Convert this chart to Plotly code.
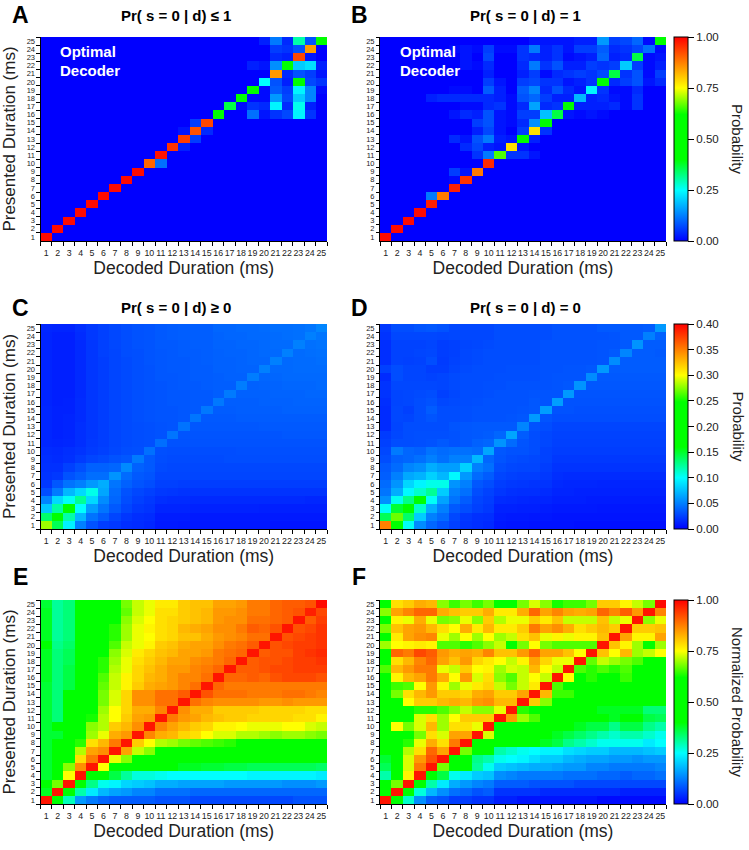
import plotly.graph_objects as go

durations = [str(d) for d in range(1, 26)]
presented_top_down = [str(d) for d in range(25, 0, -1)]

# rows run from presented 25 (top) to presented 1 (bottom); values in percent
panel_a = [
[0,0,0,0,0,0,0,0,0,0,0,0,0,0,0,0,0,0,0,3,12,4,30,8,50],
[0,0,0,0,0,0,0,0,0,0,0,0,0,0,0,0,0,0,0,0,6,5,8,85,0],
[0,0,0,0,0,0,0,0,0,0,0,0,0,0,0,0,0,0,0,0,4,3,93,2,0],
[0,0,0,0,0,0,0,0,0,0,0,0,0,0,0,0,0,0,3,2,14,50,20,22,3],
[0,0,0,0,0,0,0,0,0,0,0,0,0,0,0,0,0,0,0,0,85,4,8,6,2],
[0,0,0,0,0,0,0,0,0,0,0,0,0,0,0,0,0,0,0,25,8,3,48,7,5],
[0,0,0,0,0,0,0,0,0,0,0,0,0,0,0,0,0,0,48,1,9,6,24,13,1],
[0,0,0,0,0,0,0,0,0,0,0,0,0,0,0,0,0,42,1,1,15,7,20,13,0],
[0,0,0,0,0,0,0,0,0,0,0,0,0,0,0,0,36,1,5,4,24,4,26,3,0],
[0,0,0,0,0,0,0,0,0,0,0,0,0,0,0,48,0,0,11,2,5,7,24,5,0],
[0,0,0,0,0,0,0,0,0,0,0,0,0,6,93,0,0,0,0,0,0,0,0,0,0],
[0,0,0,0,0,0,0,0,0,0,0,0,2,92,4,0,0,0,0,0,0,0,0,0,0],
[0,0,0,0,0,0,0,0,0,0,0,0,94,6,0,0,0,0,0,0,0,0,0,0,0],
[0,0,0,0,0,0,0,0,0,0,0,95,3,0,0,0,0,0,0,0,0,0,0,0,0],
[0,0,0,0,0,0,0,0,0,0,98,0,0,0,0,0,0,0,0,0,0,0,0,0,0],
[0,0,0,0,0,0,0,0,0,90,11,0,0,0,0,0,0,0,0,0,0,0,0,0,0],
[0,0,0,0,0,0,0,0,99,0,0,0,0,0,0,0,0,0,0,0,0,0,0,0,0],
[0,0,0,0,0,0,0,99,0,0,0,0,0,0,0,0,0,0,0,0,0,0,0,0,0],
[0,0,0,0,0,0,99,0,0,0,0,0,0,0,0,0,0,0,0,0,0,0,0,0,0],
[0,0,0,0,0,99,0,0,0,0,0,0,0,0,0,0,0,0,0,0,0,0,0,0,0],
[0,0,0,0,99,0,0,0,0,0,0,0,0,0,0,0,0,0,0,0,0,0,0,0,0],
[0,0,0,99,0,0,0,0,0,0,0,0,0,0,0,0,0,0,0,0,0,0,0,0,0],
[0,0,99,0,0,0,0,0,0,0,0,0,0,0,0,0,0,0,0,0,0,0,0,0,0],
[0,99,0,0,0,0,0,0,0,0,0,0,0,0,0,0,0,0,0,0,0,0,0,0,0],
[99,0,0,0,0,0,0,0,0,0,0,0,0,0,0,0,0,0,0,0,0,0,0,0,0],
]

panel_b = [
[0,0,0,0,0,0,0,0,0,0,0,0,0,2,2,2,2,3,3,15,6,7,10,1,48],
[0,0,0,0,0,0,1,2,1,6,1,1,5,12,3,5,2,6,6,9,4,5,7,11,1],
[0,0,0,0,0,0,0,2,0,7,0,0,5,4,3,5,1,2,3,10,3,4,36,1,2],
[0,0,0,0,0,0,0,2,1,4,0,0,4,12,5,8,3,3,6,5,6,20,6,1,3],
[0,0,0,0,0,0,0,0,0,3,0,0,3,6,1,4,5,6,5,7,36,5,8,1,6],
[0,0,0,0,0,0,0,0,0,6,2,0,6,7,5,5,2,3,5,44,4,6,8,2,4],
[0,0,0,0,0,0,1,1,0,9,3,0,9,13,4,8,4,2,24,5,1,1,4,0,0],
[0,0,0,0,3,4,4,4,4,4,3,1,8,10,6,3,3,18,3,4,2,1,5,0,0],
[0,0,0,0,0,0,0,1,1,4,5,1,4,16,4,5,46,3,3,3,4,1,5,0,0],
[0,0,0,0,0,0,2,4,3,8,2,1,6,6,19,36,2,1,2,1,0,0,0,0,0],
[0,0,0,0,0,0,0,0,6,8,2,1,4,14,46,0,0,0,0,0,0,0,0,0,0],
[0,0,0,0,0,0,0,0,3,7,2,0,6,78,5,0,0,0,0,0,0,0,0,0,0],
[0,0,0,0,0,0,4,2,8,12,3,2,50,3,0,0,0,0,0,0,0,0,0,0,0],
[0,0,0,0,0,0,0,4,7,3,2,78,2,0,0,0,0,0,0,0,0,0,0,0,0],
[0,0,0,0,0,0,0,0,5,12,66,5,5,2,0,0,0,0,0,0,0,0,0,0,0],
[0,0,0,0,0,0,0,0,0,96,0,0,0,0,0,0,0,0,0,0,0,0,0,0,0],
[0,0,0,0,0,0,6,2,88,0,0,0,0,0,0,0,0,0,0,0,0,0,0,0,0],
[0,0,0,0,0,0,1,95,0,0,0,0,0,0,0,0,0,0,0,0,0,0,0,0,0],
[0,0,0,0,0,0,97,0,0,0,0,0,0,0,0,0,0,0,0,0,0,0,0,0,0],
[0,0,0,0,12,88,0,0,0,0,0,0,0,0,0,0,0,0,0,0,0,0,0,0,0],
[0,0,0,0,97,0,0,0,0,0,0,0,0,0,0,0,0,0,0,0,0,0,0,0,0],
[0,0,0,99,0,0,0,0,0,0,0,0,0,0,0,0,0,0,0,0,0,0,0,0,0],
[0,0,99,0,0,0,0,0,0,0,0,0,0,0,0,0,0,0,0,0,0,0,0,0,0],
[0,99,0,0,0,0,0,0,0,0,0,0,0,0,0,0,0,0,0,0,0,0,0,0,0],
[99,0,0,0,0,0,0,0,0,0,0,0,0,0,0,0,0,0,0,0,0,0,0,0,0],
]

# values in thousandths of probability
panel_c = [
[15,14,14,18,22,25,28,30,32,33,35,36,37,37,37,40,40,41,41,42,43,43,44,46,52],
[14,12,12,17,22,25,28,30,32,33,35,36,37,37,37,39,40,40,41,41,42,43,44,50,46],
[14,12,12,16,21,25,28,30,32,33,35,35,36,37,37,39,39,40,40,41,42,42,50,44,45],
[14,12,12,16,21,25,27,30,31,33,34,35,36,36,37,38,39,39,40,41,41,50,42,43,44],
[14,12,12,16,21,24,27,29,31,33,34,35,35,36,37,38,38,39,40,40,50,41,42,42,43],
[14,12,12,16,21,24,27,29,31,32,34,35,35,36,36,38,38,39,39,50,41,41,42,42,42],
[14,12,12,16,21,24,27,29,31,32,34,34,35,36,36,37,38,38,49,40,40,41,41,41,41],
[14,12,12,16,21,24,27,29,31,32,33,34,35,35,36,37,37,49,38,39,39,40,40,40,41],
[14,12,12,16,21,24,27,29,31,32,33,34,34,35,35,37,48,38,38,38,39,39,39,40,40],
[14,12,13,17,21,24,27,29,31,32,33,34,34,35,35,47,37,37,37,38,38,38,39,39,39],
[15,13,13,17,21,24,27,29,31,32,33,33,34,35,47,36,36,37,37,37,37,38,38,38,38],
[15,13,14,17,21,24,27,29,31,32,33,33,34,46,35,35,35,36,36,36,36,36,36,36,36],
[15,13,14,18,21,24,27,29,30,31,32,33,45,34,34,34,34,34,34,35,35,35,35,35,35],
[15,13,14,18,21,24,27,29,30,31,32,46,33,33,33,33,33,33,33,33,33,34,34,34,34],
[15,14,15,18,22,24,27,29,30,31,43,32,32,32,32,32,32,32,32,32,32,32,32,32,32],
[17,16,18,20,23,25,28,30,31,44,31,30,30,30,30,30,30,31,31,31,31,31,31,31,31],
[18,17,19,23,27,29,32,34,48,35,30,29,29,29,29,29,30,30,30,30,30,30,30,30,30],
[19,19,25,31,38,38,40,54,38,35,29,28,28,28,28,28,28,28,28,28,28,28,28,28,28],
[20,22,32,37,43,43,58,42,35,33,27,27,27,27,27,27,27,27,27,27,27,27,27,27,27],
[22,34,45,50,60,68,46,38,33,30,25,25,24,24,24,24,24,24,24,24,24,24,24,24,24],
[30,48,72,85,105,65,42,32,28,25,22,21,20,20,20,20,20,20,20,20,20,20,20,20,20],
[52,85,102,125,85,55,40,30,25,22,18,17,17,16,16,16,16,16,16,16,16,16,16,15,15],
[78,122,160,100,62,46,35,27,22,20,14,14,14,13,13,13,13,13,13,12,12,12,12,12,12],
[135,175,120,72,45,36,27,21,18,17,11,11,11,10,10,10,10,10,10,10,10,10,10,10,10],
[280,140,95,50,32,24,22,18,17,15,10,10,9,9,9,9,9,9,9,9,8,8,8,8,8],
]

panel_d = [
[22,30,30,33,34,32,28,28,28,28,30,30,30,30,30,32,32,32,32,35,35,35,35,36,60],
[20,28,28,28,28,27,28,28,28,28,30,30,30,30,30,32,32,32,32,32,33,35,35,50,38],
[18,26,26,26,27,24,25,27,28,29,30,30,30,30,32,32,32,32,32,33,33,35,58,36,36],
[18,26,26,27,28,24,25,28,29,30,30,30,30,30,32,32,32,32,32,33,35,52,36,36,35],
[18,26,25,26,30,23,26,28,29,30,30,30,30,30,32,32,32,32,32,33,55,36,36,36,36],
[25,30,27,27,24,24,27,29,30,30,30,31,31,31,32,32,33,33,34,60,36,36,36,36,36],
[17,30,27,27,26,27,29,30,30,30,31,31,31,31,32,33,33,33,55,35,35,35,35,35,35],
[20,28,28,28,28,27,29,30,30,31,31,32,32,32,32,33,34,58,34,34,34,34,34,34,34],
[20,27,28,29,30,25,28,30,30,31,32,32,32,33,33,33,60,33,33,33,33,33,33,33,33],
[18,27,28,30,32,28,29,30,31,32,32,32,32,34,33,62,32,32,32,32,32,32,32,32,32],
[17,28,25,30,36,30,30,31,32,32,32,32,33,34,62,32,32,31,31,31,31,31,31,31,31],
[17,28,27,30,33,30,30,31,32,32,32,33,34,60,33,30,30,30,30,30,30,30,30,30,30],
[17,27,30,30,30,30,33,34,35,35,35,35,52,32,30,27,27,27,27,27,27,27,27,27,27],
[23,28,30,31,31,31,32,34,35,36,40,65,36,30,28,26,26,26,26,26,26,26,26,26,26],
[25,30,30,31,32,35,32,34,38,40,58,42,33,30,28,25,25,25,25,25,25,25,25,25,25],
[28,48,40,38,45,42,44,44,42,65,34,32,32,30,26,24,24,24,24,24,24,24,24,24,24],
[30,38,40,44,50,44,50,50,72,40,33,30,29,28,26,22,22,22,22,22,22,22,22,22,22],
[35,42,52,56,68,62,62,82,50,44,30,28,27,27,24,20,20,20,20,20,20,20,20,20,20],
[37,50,66,70,82,72,98,60,42,36,27,25,24,24,22,18,17,17,17,17,17,17,17,17,17],
[42,58,84,96,105,105,58,50,34,30,24,22,21,20,20,16,15,15,15,14,14,14,14,14,14],
[46,68,98,112,125,80,50,44,30,26,21,19,18,18,17,14,14,13,13,13,13,13,13,13,13],
[56,103,128,165,102,64,45,36,27,24,17,16,15,14,14,12,12,12,11,11,11,11,11,11,11],
[102,148,180,112,68,50,35,30,25,22,13,13,12,12,11,10,10,10,10,9,9,9,9,9,9],
[140,270,135,80,50,42,28,22,19,18,11,10,10,9,9,8,8,8,8,8,8,8,8,8,8],
[350,165,102,55,40,32,25,20,18,16,9,8,8,7,7,7,7,6,6,6,6,6,6,6,6],
]

# values in percent
panel_e = [
[37,31,33,45,50,50,55,68,72,74,77,77,80,81,81,84,84,85,88,88,90,91,91,92,99],
[38,31,33,45,50,50,55,67,72,74,78,78,80,81,82,85,85,86,88,88,90,91,92,97,93],
[38,31,33,45,50,50,62,69,73,75,78,79,80,81,82,85,86,86,89,89,90,91,98,91,94],
[38,31,33,45,50,55,64,70,74,76,78,79,82,83,84,86,86,88,91,90,92,98,92,93,95],
[38,31,33,45,50,60,64,70,74,75,78,79,81,81,83,85,86,87,89,89,98,92,93,94,95],
[42,32,34,45,50,52,66,72,74,76,80,81,83,84,84,86,88,89,91,98,92,93,94,94,95],
[38,33,35,45,50,58,69,73,77,79,81,82,84,84,85,88,89,90,98,91,92,92,94,95,96],
[38,33,35,45,50,64,70,74,78,80,82,84,84,86,87,88,90,98,91,92,92,93,94,94,95],
[38,33,36,45,50,64,71,74,79,81,83,85,85,87,88,90,98,91,91,92,93,93,94,94,94],
[38,33,36,45,50,66,72,76,79,82,83,85,87,87,89,98,90,90,91,90,92,93,93,93,92],
[37,33,36,45,50,67,72,76,80,83,84,85,87,89,98,90,88,88,88,88,88,88,88,88,88],
[37,33,40,45,60,68,73,79,86,86,89,89,91,98,92,89,89,89,88,88,88,89,89,88,87],
[37,33,41,50,50,68,73,79,86,86,89,89,98,89,87,86,86,86,86,85,85,86,85,85,85],
[37,33,42,50,50,70,75,79,83,83,87,98,86,83,83,80,80,80,80,79,79,79,79,78,78],
[37,33,42,50,63,71,75,80,84,85,98,88,85,84,82,81,80,80,79,79,79,79,78,78,76],
[37,40,42,50,69,71,80,82,86,98,87,84,82,80,79,76,76,75,74,74,74,75,75,73,72],
[37,37,42,50,70,74,83,85,98,87,83,82,79,78,75,73,73,71,71,70,69,70,70,69,68],
[37,42,42,64,78,82,88,98,80,75,71,70,68,67,66,65,64,62,60,58,58,58,58,58,58],
[37,42,44,71,84,86,98,84,72,69,54,50,50,50,50,50,50,50,50,50,50,50,50,50,50],
[37,42,60,78,88,98,74,69,52,50,50,50,50,50,50,50,50,50,50,50,50,50,50,50,50],
[37,42,69,86,98,75,50,50,48,47,40,40,38,38,37,37,36,36,35,35,35,35,35,35,34],
[37,42,75,98,45,45,36,31,27,27,26,25,25,25,25,25,25,25,24,24,24,24,24,24,23],
[44,68,98,44,32,26,24,21,20,19,17,17,16,16,16,16,15,15,15,15,15,14,14,14,15],
[38,98,44,30,23,18,16,15,13,13,11,11,11,10,10,10,10,10,10,10,10,10,10,10,10],
[98,42,29,15,12,10,9,9,9,9,8,8,8,7,7,7,7,7,7,7,7,7,8,8,8],
]

panel_f = [
[45,78,80,83,82,69,65,68,65,68,50,50,68,73,69,63,65,65,68,80,80,76,72,68,99],
[69,84,87,90,90,83,81,80,80,83,77,77,83,90,84,87,84,83,84,90,87,91,85,98,87],
[45,76,74,83,74,68,69,74,69,80,71,74,74,80,77,81,72,72,72,81,72,74,98,69,74],
[68,81,84,85,82,78,75,83,77,82,77,77,80,88,84,86,83,78,80,82,80,98,80,80,81],
[45,77,84,86,87,74,70,75,70,75,70,72,78,81,74,76,74,76,76,81,98,84,76,76,84],
[70,75,76,77,76,66,66,64,66,69,72,60,68,75,68,66,66,66,66,98,81,76,70,62,70],
[50,90,88,93,91,85,83,84,83,87,81,81,85,90,84,84,81,75,98,81,75,82,70,72,75],
[50,78,82,87,90,84,81,85,79,77,75,72,76,84,79,74,74,98,67,72,70,68,66,50,57],
[66,82,85,88,88,74,72,80,75,76,70,73,72,82,75,72,98,66,64,66,64,66,50,50,50],
[45,76,82,84,88,83,75,85,73,78,69,66,72,75,72,98,75,55,64,50,50,65,62,50,50],
[45,65,66,75,85,76,70,74,77,79,72,68,72,77,98,66,48,48,48,48,48,48,48,48,48],
[45,68,78,82,85,80,80,79,83,84,80,80,84,98,82,65,65,48,48,48,48,48,48,48,48],
[45,52,75,80,80,82,83,82,85,86,82,82,98,80,69,48,48,48,48,48,48,48,48,48,48],
[47,47,47,64,64,66,69,72,69,69,74,98,64,46,46,46,45,45,40,38,38,38,38,33,33],
[47,47,62,73,78,70,75,80,80,80,98,85,70,66,46,46,45,42,42,42,38,42,40,36,35],
[47,75,68,73,82,70,78,78,74,98,48,48,46,46,46,42,42,38,36,36,32,36,36,32,30],
[47,47,47,68,78,73,84,84,98,73,46,46,46,44,44,38,36,34,32,30,28,30,30,28,26],
[47,47,64,74,83,78,88,98,48,48,48,44,42,40,38,36,32,30,28,26,26,26,26,23,25],
[43,47,71,78,90,84,98,68,44,42,30,28,26,25,24,24,22,21,20,20,18,18,18,19,20],
[37,47,73,85,92,98,46,46,32,30,26,25,24,22,20,20,18,17,16,16,15,15,14,15,15],
[35,47,73,88,98,68,45,42,31,26,20,19,18,17,17,16,15,15,13,13,12,12,12,12,13],
[30,46,76,98,46,36,26,23,20,19,14,13,12,12,12,12,11,11,11,10,10,9,10,10,11],
[44,68,98,45,30,23,17,15,13,12,9,9,9,8,8,8,8,7,7,7,7,7,7,7,7],
[45,98,45,27,18,14,11,10,8,9,5,5,5,5,4,4,4,4,4,4,4,3,3,3,3],
[98,46,28,14,9,8,6,6,5,5,3,3,2,2,2,2,2,2,2,1,1,1,1,1,1],
]

panel_titles = ["Pr( s = 0 | d) ≤ 1", "Pr( s = 0 | d) = 1", "Pr( s = 0 | d) ≥ 0",
                "Pr( s = 0 | d) = 0", "", ""]
panel_letters = ["A", "B", "C", "D", "E", "F"]
colorbar_titles = ["", "Probability", "", "Probability", "", "Normalized Probability"]

W, H = 749, 850
FONT = "Liberation Sans, Arial, sans-serif"
JET = [[0, "#0000ff"], [0.25, "#00ffff"], [0.40, "#00ff00"], [0.62, "#00ff00"],
       [0.75, "#ffff00"], [1, "#ff0000"]]

col_px = [(40.5, 327.0), (380.0, 666.0)]
row_px = [(37.0, 241.0), (324.0, 529.0), (600.0, 804.0)]
letter_y_px = [15, 308, 577]
title_y_px = [15, 307, None]

data = [panel_a, panel_b, panel_c, panel_d, panel_e, panel_f]
scales = [100, 100, 1000, 1000, 100, 100]
zmax = [1, 1, 0.4, 0.4, 1, 1]
cb_ticks = {1: [0, .25, .5, .75, 1], 3: [0, .05, .1, .15, .2, .25, .3, .35, .4], 5: [0, .25, .5, .75, 1]}

fig = go.Figure()
annotations = []

for i in range(6):
    assert len(data[i]) == 25 and all(len(r) == 25 for r in data[i]), i
    c, r = i % 2, i // 2
    x0, x1 = col_px[c]
    y0, y1 = row_px[r]
    ax = "" if i == 0 else str(i + 1)
    z = [[v / scales[i] for v in row] for row in data[i]]
    trace = dict(x=durations, y=presented_top_down, z=z, xaxis="x" + ax, yaxis="y" + ax,
                 colorscale=JET, zmin=0, zmax=zmax[i], showscale=(c == 1), xgap=0, ygap=0)
    if c == 1:
        trace["colorbar"] = dict(
            x=674 / W, xanchor="left", y=1 - y1 / H, yanchor="bottom",
            thickness=14, thicknessmode="pixels", len=(y1 - y0) / H, lenmode="fraction",
            xpad=0, ypad=0, outlinecolor="black", outlinewidth=1,
            tickmode="array", tickvals=cb_ticks[i], ticktext=[f"{v:.2f}" for v in cb_ticks[i]],
            ticks="outside", ticklen=6, tickcolor="black", tickwidth=1,
            tickfont=dict(family=FONT, size=11.5, color="#222"))
    fig.add_trace(go.Heatmap(**trace))

    common = dict(type="category", categoryorder="array", categoryarray=durations,
                  range=[-0.5, 24.5], tickson="boundaries", ticks="outside", ticklen=3.5,
                  tickcolor="black", tickwidth=1, showgrid=False, zeroline=False, dtick=1,
                  showline=True, linecolor="black", linewidth=1, mirror=False, tickangle=0)
    fig.update_layout({
        "xaxis" + ax: dict(domain=[x0 / W, x1 / W], anchor="y" + ax, ticklabelstandoff=3,
                           tickfont=dict(family=FONT, size=8.8, color="#222"),
                           title=dict(text="Decoded Duration (ms)", standoff=2,
                                      font=dict(family=FONT, size=17.5, color="#222")),
                           **common),
        "yaxis" + ax: dict(domain=[1 - y1 / H, 1 - y0 / H], anchor="x" + ax, ticklabelstandoff=3,
                           tickfont=dict(family=FONT, size=7.5, color="#222"),
                           title=dict(text="Presented Duration (ms)" if c == 0 else "", standoff=6,
                                      font=dict(family=FONT, size=17, color="#222")),
                           **common),
    })

    # panel letter
    annotations.append(dict(text=f"<b>{panel_letters[i]}</b>", xref="paper", yref="paper",
                            x=(20 if c == 0 else 359) / W, y=1 - letter_y_px[r] / H,
                            xanchor="center", yanchor="middle", showarrow=False,
                            font=dict(family=FONT, size=23, color="black")))
    # panel title
    if panel_titles[i]:
        annotations.append(dict(text=f"<b>{panel_titles[i]}</b>", xref="paper", yref="paper",
                                x=(176 if c == 0 else 525) / W, y=1 - title_y_px[r] / H,
                                xanchor="center", yanchor="middle", showarrow=False,
                                font=dict(family=FONT, size=15, color="black")))
    # colour-bar title
    if colorbar_titles[i]:
        annotations.append(dict(text=colorbar_titles[i], xref="paper", yref="paper",
                                x=738 / W, y=1 - (y0 + y1) / 2 / H, textangle=90,
                                xanchor="center", yanchor="middle", showarrow=False,
                                font=dict(family=FONT, size=15, color="#222")))

# "Optimal Decoder" labels inside A and B
for cx in (58, 398):
    for line, py in (("Optimal", 52), ("Decoder", 71)):
        annotations.append(dict(text=f"<b>{line}</b>", xref="paper", yref="paper",
                                x=cx / W, y=1 - py / H, xanchor="left", yanchor="middle",
                                showarrow=False, font=dict(family=FONT, size=15, color="white")))

fig.update_layout(width=W, height=H, margin=dict(l=0, r=0, t=0, b=0, autoexpand=False),
                  paper_bgcolor="white", plot_bgcolor="white",
                  annotations=annotations, showlegend=False)

fig.write_html("out.html", config={"displayModeBar": False},
               post_script="document.body.style.margin='0';document.body.style.overflow='hidden';")
